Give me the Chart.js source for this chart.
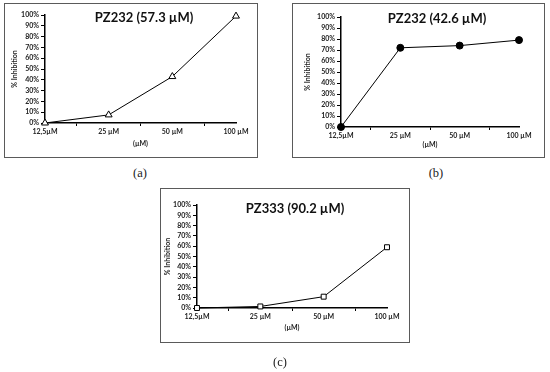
<!DOCTYPE html>
<html>
<head>
<meta charset="utf-8">
<script src="https://cdn.jsdelivr.net/npm/chart.js@4.4.0/dist/chart.umd.min.js"></script>
<style>
  body { margin: 0; background: #fff; width: 550px; height: 372px; position: relative; overflow: hidden; }
  .frame { position: absolute; border: 1px solid #5a5a5a; box-sizing: border-box; pointer-events: none; }
  .panel { position: absolute; }
  .title { position: absolute; font: bold 13px Lato, sans-serif; color: #111; transform: translate(-50%, -50%); white-space: nowrap; }
  .cap { position: absolute; font: 12.5px "Liberation Serif", serif; color: #222; transform: translate(-50%, -50%); }
</style>
</head>
<body>
<div class="panel" style="left:4px;top:3px;width:254px;height:155px"><canvas id="chartA"></canvas></div>
<div class="panel" style="left:292px;top:3px;width:253px;height:155px"><canvas id="chartB"></canvas></div>
<div class="panel" style="left:160px;top:188px;width:250px;height:155px"><canvas id="chartC"></canvas></div>
<div class="frame" style="left:4px;top:3px;width:254px;height:155px"></div>
<div class="frame" style="left:292px;top:3px;width:253px;height:155px"></div>
<div class="frame" style="left:160px;top:188px;width:250px;height:155px"></div>
<div class="title" style="left:144px;top:17px">PZ232 (57.3 µM)</div>
<div class="title" style="left:437px;top:18px">PZ232 (42.6 µM)</div>
<div class="title" style="left:295px;top:208px">PZ333 (90.2 µM)</div>
<div class="cap" style="left:140px;top:173px">(a)</div>
<div class="cap" style="left:436px;top:173px">(b)</div>
<div class="cap" style="left:280px;top:362px">(c)</div>
<script>
const doses = ['12,5µM', '25 µM', '50 µM', '100 µM'];
const inhibA = [0, 7.5, 43, 99];
const inhibB = [0, 72, 74, 79];
const inhibC = [0, 1.5, 11, 59];
const yTicks = [0, 10, 20, 30, 40, 50, 60, 70, 80, 90, 100];

const tickFont = { family: 'Lato', size: 7, weight: 'bold' };

function makeChart(id, values, marker, box) {
    const ctx = document.getElementById(id);
    return new Chart(ctx, {
        type: 'line',
        data: {
            datasets: [{
                data: values.map((v, i) => ({ x: i, y: v })),
                borderColor: '#000',
                borderWidth: 1,
                pointStyle: marker.style,
                pointRadius: marker.radius,
                pointBackgroundColor: marker.fill,
                pointBorderColor: '#000',
                pointBorderWidth: 1,
                tension: 0,
                clip: false
            }]
        },
        options: {
            responsive: true,
            maintainAspectRatio: false,
            animation: false,
            layout: { padding: { left: box.left, top: box.top, right: box.right, bottom: box.bottom } },
            plugins: { legend: { display: false }, tooltip: { enabled: false } },
            scales: {
                x: {
                    type: 'linear',
                    min: 0,
                    max: 3,
                    afterFit: (s) => { s.height = box.xh; },
                    afterBuildTicks: (s) => {
                        s.ticks = [0, 0.5, 1, 1.5, 2, 2.5, 3].map(v => ({ value: v }));
                    },
                    ticks: {
                        autoSkip: false,
                        maxRotation: 0,
                        padding: 2,
                        color: '#222',
                        font: tickFont,
                        callback: (v) => Number.isInteger(v) ? doses[v] : ''
                    },
                    grid: {
                        drawOnChartArea: false,
                        tickLength: 3,
                        tickColor: (c) => (c.tick && Number.isInteger(c.tick.value)) ? 'rgba(0,0,0,0)' : '#000'
                    },
                    border: { color: '#000', width: 1.5 },
                    title: { display: true, text: '(µM)', color: '#222', font: tickFont, padding: { top: 2, bottom: 0 } }
                },
                y: {
                    min: 0,
                    max: 100,
                    afterFit: (s) => { s.width = box.yw; },
                    afterBuildTicks: (s) => { s.ticks = yTicks.map(v => ({ value: v })); },
                    ticks: { autoSkip: false, color: '#222', font: tickFont, padding: 2, callback: (v) => v + '%' },
                    grid: { drawOnChartArea: false, tickLength: 4, tickColor: '#000' },
                    border: { color: '#000', width: 1.5 },
                    title: { display: true, text: '% Inhibition', color: '#222', font: tickFont, padding: 0 }
                }
            }
        }
    });
}

makeChart('chartA', inhibA, { style: 'triangle', radius: 4, fill: '#fff' },
    { left: 7, top: 12, right: 22, bottom: 10, yw: 34, xh: 25 });
makeChart('chartB', inhibB, { style: 'circle', radius: 3.5, fill: '#000' },
    { left: 12, top: 14, right: 26, bottom: 9, yw: 37, xh: 22 });
makeChart('chartC', inhibC, { style: 'rect', radius: 3.5, fill: '#fff' },
    { left: 4, top: 17, right: 23, bottom: 11, yw: 33, xh: 24 });
</script>
</body>
</html>
